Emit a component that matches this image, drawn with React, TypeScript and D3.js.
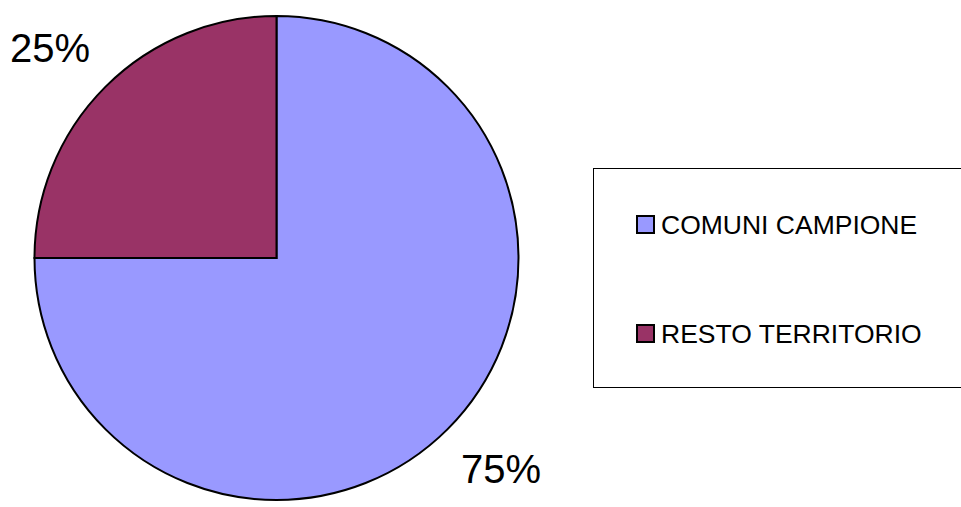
import React from "react";
import * as d3 from "d3";

const categories = ["COMUNI CAMPIONE", "RESTO TERRITORIO"];
const values = [75, 25];
const labels = ["75%", "25%"];
const colors = ["#9999FF", "#993366"];

export default function App() {
  const width = 961;
  const height = 507;
  const cx = 276.5;
  const cy = 258;
  const r = 242;
  const pie = d3.pie<number>().sort(null).startAngle(0).endAngle(2 * Math.PI);
  const arcs = pie(values);
  const arc = d3.arc<d3.PieArcDatum<number>>().innerRadius(0).outerRadius(r);
  const labelPos = [
    { x: 461, y: 483, anchor: "start" },
    { x: 10, y: 62, anchor: "start" },
  ];
  return (
    <svg
      width={width}
      height={height}
      style={{ position: "absolute", left: 0, top: 0, background: "#fff" }}
      fontFamily="'Liberation Sans', Arial, sans-serif"
    >
      <g transform={`translate(${cx},${cy})`}>
        {arcs.map((a, i) => (
          <path key={i} d={arc(a) || ""} fill={colors[i]} stroke="#000" strokeWidth={2} strokeLinejoin="miter" />
        ))}
      </g>
      {labels.map((l, i) => (
        <text key={i} x={labelPos[i].x} y={labelPos[i].y} fontSize={40} fill="#000" textAnchor={labelPos[i].anchor as any}>
          {l}
        </text>
      ))}
      <rect x={593.5} y={168.5} width={400} height={219} fill="#fff" stroke="#000" strokeWidth={1} />
      {categories.map((c, i) => (
        <g key={c} transform={`translate(0,${i * 109})`}>
          <rect x={637} y={216} width={17} height={17} fill={colors[i]} stroke="#000" strokeWidth={2} />
          <text x={661} y={234} fontSize={26.5} fill="#000">
            {c}
          </text>
        </g>
      ))}
    </svg>
  );
}
